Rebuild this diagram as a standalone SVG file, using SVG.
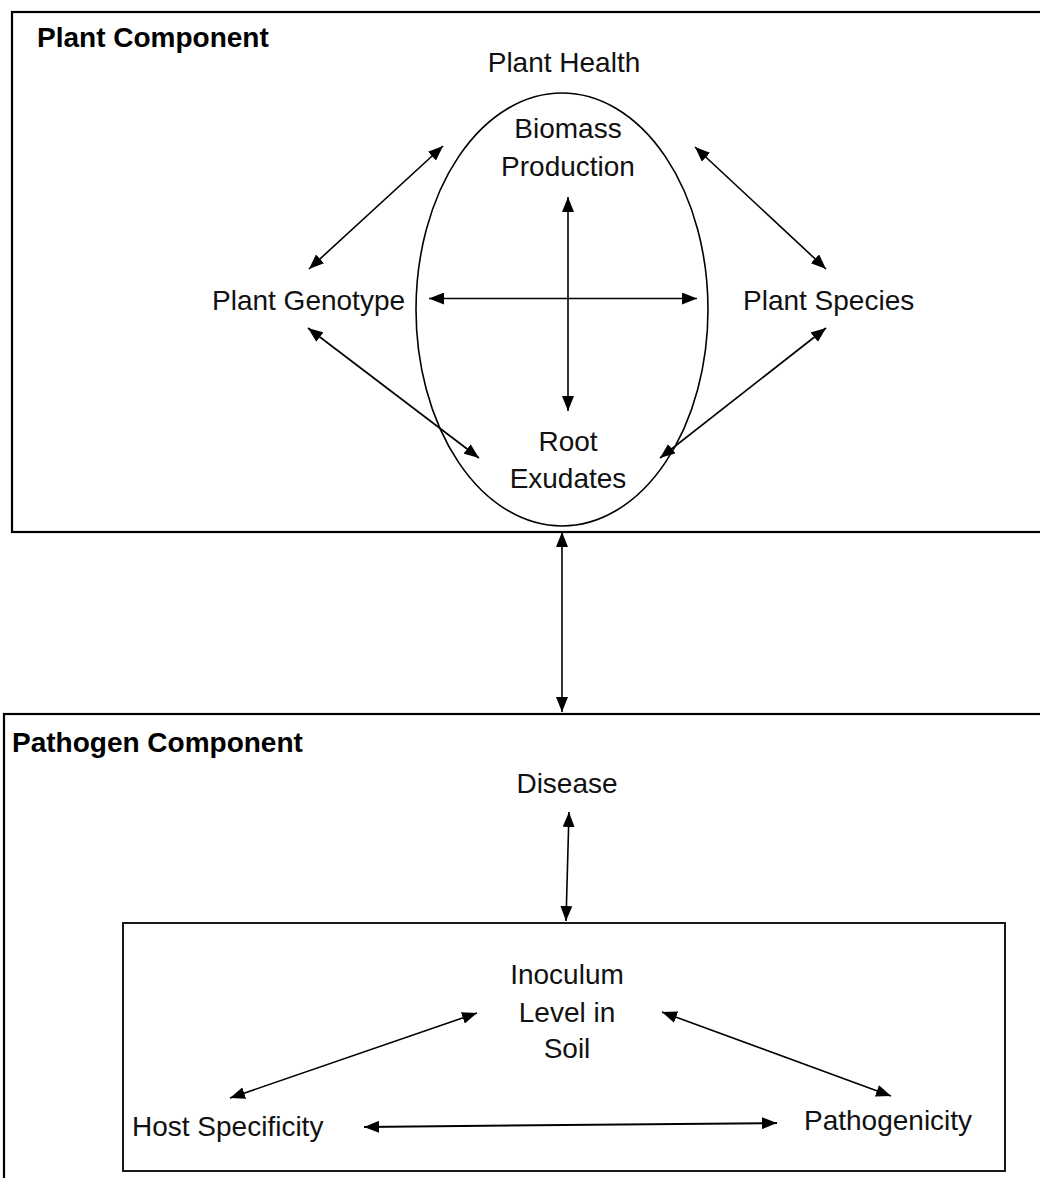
<svg xmlns="http://www.w3.org/2000/svg" width="1040" height="1178" viewBox="0 0 1040 1178">
  <style>
    .frame { fill: none; stroke: #000; stroke-width: 2.2; }
    .inner { fill: none; stroke: #000; stroke-width: 1.8; }
    .oval { fill: none; stroke: #000; stroke-width: 1.6; }
    .link { fill: none; stroke: #000; stroke-width: 1.6; marker-start: url(#head); marker-end: url(#head); }
    .lbl { font-family: "Liberation Sans", Arial, sans-serif; font-size: 28px; fill: #111; }
    .title { font-family: "Liberation Sans", Arial, sans-serif; font-size: 28px; font-weight: bold; fill: #000; }
    .mid { text-anchor: middle; }
  </style>
  <defs>
    <marker id="head" viewBox="0 0 15 12" markerWidth="15" markerHeight="12" refX="15" refY="6" orient="auto-start-reverse" markerUnits="userSpaceOnUse">
      <path d="M0,0 L15,6 L0,12 z" fill="#000"/>
    </marker>
  </defs>

  <rect width="1040" height="1178" fill="#fff"/>

  <!-- plant component frame -->
  <g id="plant-component">
    <rect class="frame" x="12" y="12" width="1100" height="520"/>
    <text class="title" x="37" y="47">Plant Component</text>
  </g>

  <!-- plant health oval -->
  <g id="plant-health">
    <ellipse class="oval" cx="562" cy="309.5" rx="146" ry="216.5"/>
    <text class="lbl mid" x="564" y="72">Plant Health</text>
  </g>

  <g id="biomass-production">
    <text class="lbl mid" x="568" y="138">Biomass</text>
    <text class="lbl mid" x="568" y="176">Production</text>
  </g>

  <g id="root-exudates">
    <text class="lbl mid" x="568" y="451">Root</text>
    <text class="lbl mid" x="568" y="488">Exudates</text>
  </g>

  <g id="plant-genotype">
    <text class="lbl" x="212" y="310">Plant Genotype</text>
  </g>

  <g id="plant-species">
    <text class="lbl" x="743" y="310">Plant Species</text>
  </g>

  <!-- pathogen component frame -->
  <g id="pathogen-component">
    <rect class="frame" x="4" y="714" width="1100" height="600"/>
    <text class="title" x="12" y="752">Pathogen Component</text>
  </g>

  <g id="disease">
    <text class="lbl mid" x="567" y="793">Disease</text>
  </g>

  <g id="soil-factors">
    <rect class="inner" x="123" y="923" width="882" height="248"/>
  </g>

  <g id="inoculum-level">
    <text class="lbl mid" x="567" y="984">Inoculum</text>
    <text class="lbl mid" x="567" y="1022">Level in</text>
    <text class="lbl mid" x="567" y="1058">Soil</text>
  </g>

  <g id="host-specificity">
    <text class="lbl" x="132" y="1136">Host Specificity</text>
  </g>

  <g id="pathogenicity">
    <text class="lbl" x="804" y="1130">Pathogenicity</text>
  </g>

  <!-- two-way links -->
  <g id="connectors">
    <line class="link" x1="568" y1="197" x2="568" y2="411"/>
    <line class="link" x1="429" y1="298.5" x2="697" y2="298.5"/>
    <line class="link" x1="309" y1="269" x2="443" y2="146"/>
    <line class="link" x1="308" y1="328" x2="479" y2="458"/>
    <line class="link" x1="695" y1="147" x2="826" y2="269"/>
    <line class="link" x1="826" y1="328" x2="660" y2="458"/>
    <line class="link" x1="562" y1="532" x2="562" y2="712"/>
    <line class="link" x1="569" y1="812" x2="566" y2="921"/>
    <line class="link" x1="477" y1="1013" x2="230" y2="1098"/>
    <line class="link" x1="662" y1="1012" x2="891" y2="1096"/>
    <line class="link" style="stroke-width:2" x1="364" y1="1127" x2="777" y2="1123"/>
  </g>
</svg>
